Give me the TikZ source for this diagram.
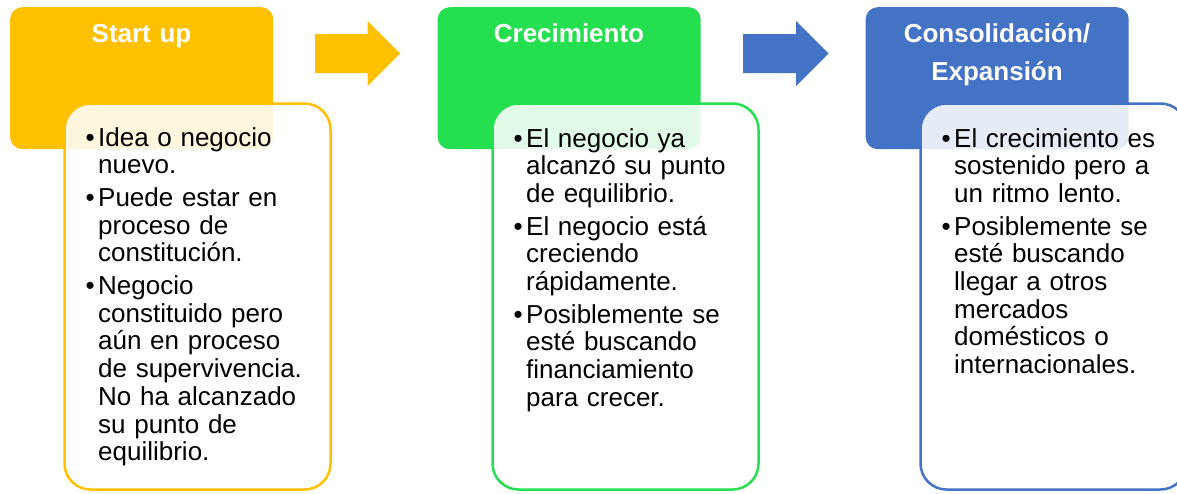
\documentclass[tikz,border=0pt]{standalone}
\usepackage{fontspec}
\setmainfont{Liberation Sans}
\definecolor{cyel}{RGB}{255,192,0}
\definecolor{cgrn}{RGB}{36,224,80}
\definecolor{cblu}{RGB}{68,114,196}
\newcommand\bulletmark{\leavevmode\llap{•\kern3.5pt}}
\begin{document}
\begin{tikzpicture}[x=1pt,y=-1pt,
  headbox/.style={rounded corners=12pt, fill=#1, draw=none, anchor=north west,
    minimum width=263pt, minimum height=142pt, inner sep=0pt},
  bodybox/.style={rounded corners=26pt, draw=#1, line width=2.5pt, fill=white,
    fill opacity=0.87, anchor=north west, minimum width=266pt, minimum height=386pt, inner sep=0pt},
  titletext/.style={text=white, font=\bfseries\fontsize{26}{38}\selectfont,
    align=center, text width=250pt, inner sep=0pt, anchor=base},
  bodytext/.style={text=black, font=\fontsize{26}{27.7}\selectfont,
    align=left, text width=245pt, inner sep=0pt, anchor=base west,
    execute at begin node={\setlength{\parskip}{5pt}\setlength{\parindent}{0pt}}}
]
\useasboundingbox (0,0) rectangle (1177,493);
\clip (0,0) rectangle (1177,493);

% header boxes
\node[headbox=cyel] (h1) at (10,7) {};
\node[headbox=cgrn] (h2) at (437.5,7) {};
\node[headbox=cblu] (h3) at (865.5,7) {};

% titles
\node[titletext] (t1) at (141.5,42) {Start up};
\node[titletext] (t2) at (569,42) {Crecimiento};
\node[titletext] (t3) at (997,42) {Consolidación/\\Expansión};

% body boxes
\node[bodybox=cyel] (b1) at (63.25,102.25) {};
\node[bodybox=cgrn] (b2) at (491.25,102.25) {};
\node[bodybox=cblu] (b3) at (919.25,102.25) {};

% block arrows
\fill[cyel] (315,34) -- (367.5,34) -- (367.5,21) -- (400,53.5) -- (367.5,86) -- (367.5,73) -- (315,73) -- cycle;
\fill[cblu] (743,34) -- (796,34) -- (796,21) -- (828.5,53.5) -- (796,86) -- (796,73) -- (743,73) -- cycle;

% body texts
\node[bodytext] (x1) at (98,146) {\bulletmark Idea o negocio\\ nuevo.\par
\bulletmark Puede estar en\\ proceso de\\ constitución.\par
\bulletmark Negocio\\ constituido pero\\ aún en proceso\\ de supervivencia.\\ No ha alcanzado\\ su punto de\\ equilibrio.};

\node[bodytext] (x2) at (526,147) {\bulletmark El negocio ya\\ alcanzó su punto\\ de equilibrio.\par
\bulletmark El negocio está\\ creciendo\\ rápidamente.\par
\bulletmark Posiblemente se\\ esté buscando\\ financiamiento\\ para crecer.};

\node[bodytext] (x3) at (954,147) {\bulletmark El crecimiento es\\ sostenido pero a\\ un ritmo lento.\par
\bulletmark Posiblemente se\\ esté buscando\\ llegar a otros\\ mercados\\ domésticos o\\ internacionales.};
\end{tikzpicture}
\end{document}
